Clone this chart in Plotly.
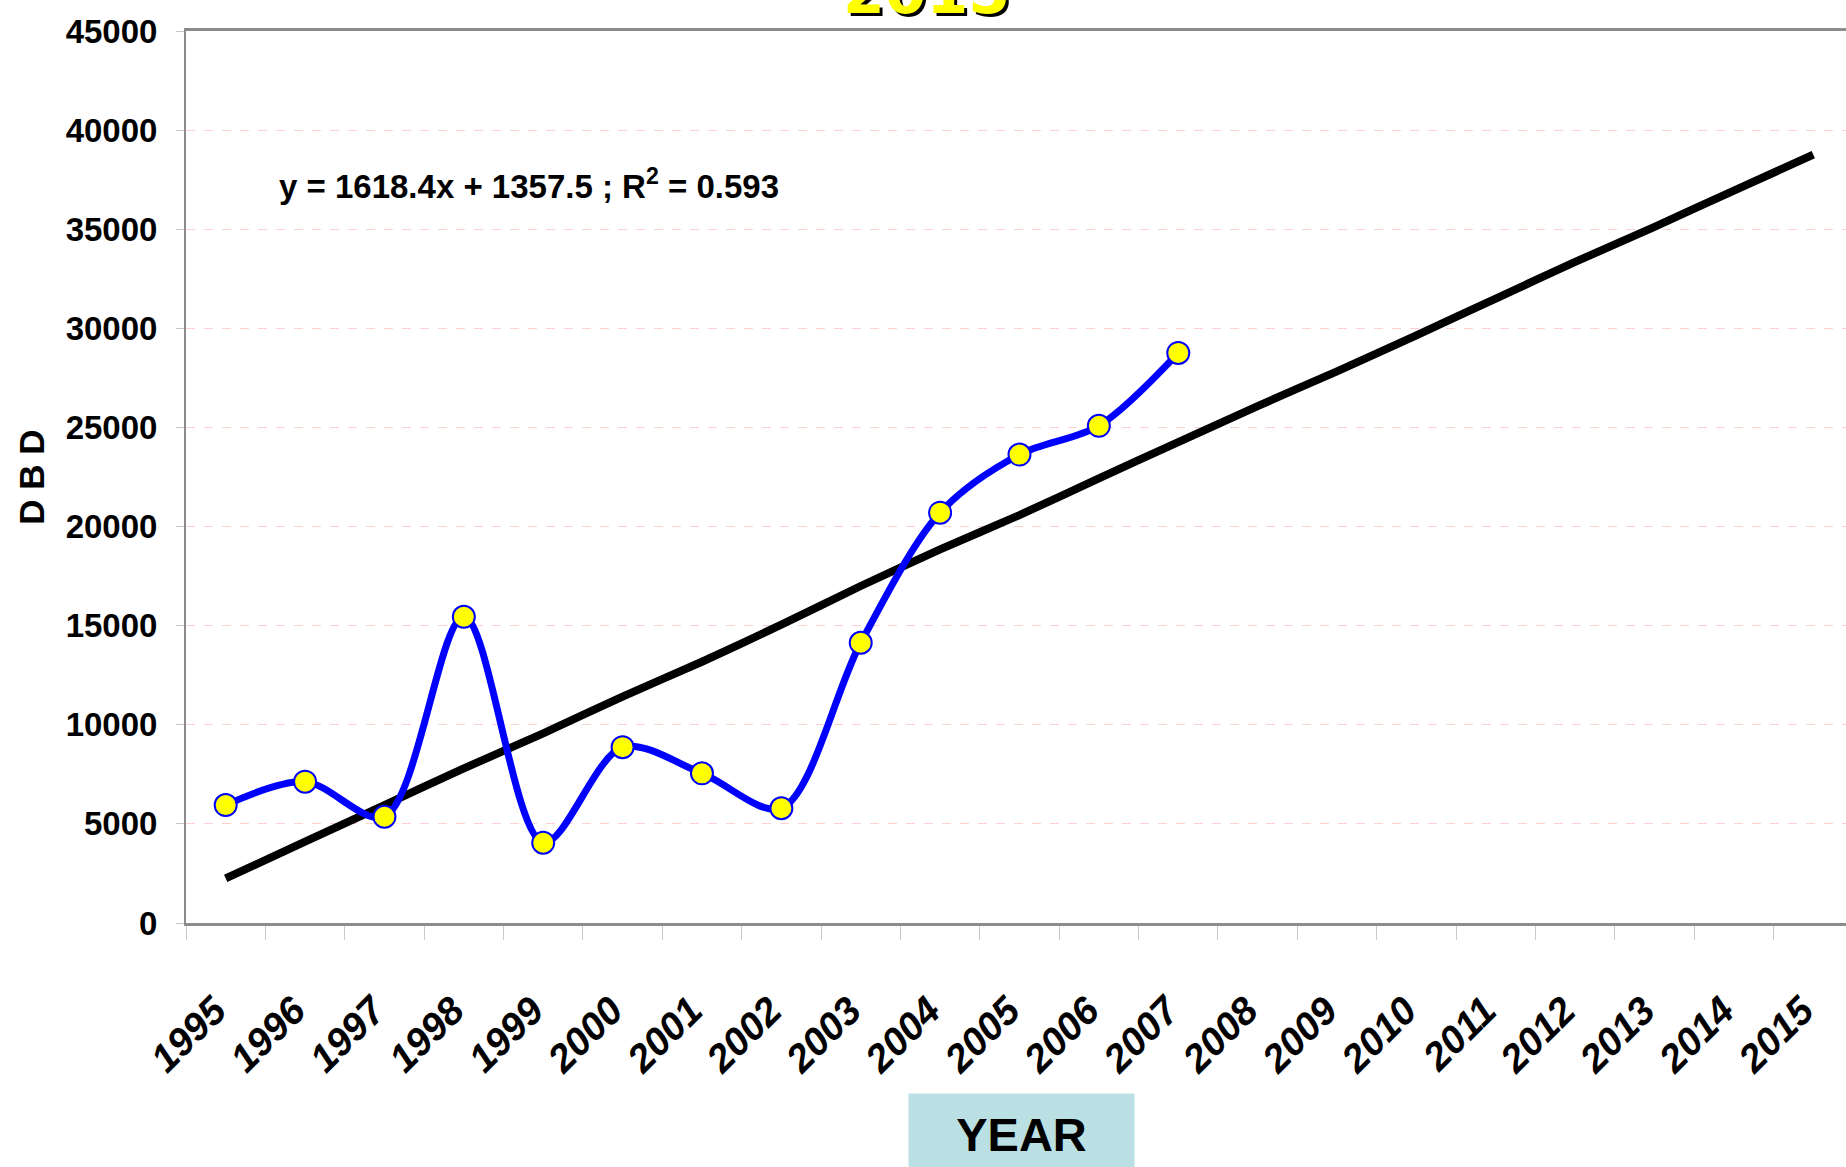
import plotly.graph_objects as go

# ---------------- data ----------------
years = ["1995", "1996", "1997", "1998", "1999", "2000", "2001", "2002", "2003",
         "2004", "2005", "2006", "2007", "2008", "2009", "2010", "2011", "2012",
         "2013", "2014", "2015"]
dbd_years = ["1995", "1996", "1997", "1998", "1999", "2000", "2001", "2002",
             "2003", "2004", "2005", "2006", "2007"]
dbd_values = [5950, 7130, 5360, 15450, 4050, 8870, 7550, 5790, 14140,
              20700, 23630, 25080, 28760]
trend_values = [2250, 4100, 5950, 7800, 9570, 11420, 13180, 15050, 17000,
                18850, 20580, 22430, 24260, 26080, 27830, 29650, 31500,
                33350, 35120, 36950, 38760]
y_ticks = [0, 5000, 10000, 15000, 20000, 25000, 30000, 35000, 40000, 45000]
y_tick_labels = ["0", "5000", "10000", "15000", "20000", "25000", "30000",
                 "35000", "40000", "45000"]
equation_text = "y = 1618.4x + 1357.5 ; R<sup>2</sup> = 0.593"
title_text = "2015"
y_title = "D B D"
x_title = "YEAR"

# ---------------- geometry helpers ----------------
W, H = 1846, 1167
ML, MR, MT, MB = 186, 0, 31, 244
PW, PH = W - ML - MR, H - MT - MB


def px_x(p):
    return (p - ML) / PW


def px_y(p):
    return (H - MB - p) / PH


ARIAL = "Liberation Sans, Arial, sans-serif"
HEAVY = "DejaVu Sans, Verdana, sans-serif"

fig = go.Figure()

fig.add_trace(go.Scatter(
    x=years, y=trend_values, mode="lines",
    line=dict(color="black", width=8, shape="spline", smoothing=0.6),
    hoverinfo="skip",
))
fig.add_trace(go.Scatter(
    x=dbd_years, y=dbd_values, mode="lines+markers",
    line=dict(color="#0000ff", width=7, shape="spline", smoothing=0.9),
    marker=dict(symbol="circle", size=22, color="#ffff00",
                line=dict(color="#0000ff", width=2)),
))

# category spacing in px (approx 79.4); plot area extends beyond right edge
cat_px = 79.38
x_range = [-0.5, -0.5 + PW / cat_px]

fig.update_layout(
    width=W, height=H,
    margin=dict(l=ML, r=MR, t=MT, b=MB, pad=0, autoexpand=False),
    plot_bgcolor="white", paper_bgcolor="white",
    showlegend=False,
    xaxis=dict(
        type="category", categoryorder="array", categoryarray=years,
        range=x_range, tickson="boundaries",
        ticks="outside", ticklen=14, tickwidth=1, tickcolor="#c8c8c8",
        showline=True, linecolor="#8c8c8c", linewidth=3, mirror=True,
        showgrid=False, zeroline=False,
        tickangle=-45, ticklabelstandoff=46, ticklabelshift=-11,
        tickfont=dict(family=ARIAL, size=39, color="black",
                      weight="bold", style="italic"),
        automargin=False,
    ),
    yaxis=dict(
        range=[0, 45000], tickvals=y_ticks, ticktext=y_tick_labels,
        ticks="outside", ticklen=8, tickwidth=1, tickcolor="#c8c8c8",
        showline=True, linecolor="#8c8c8c", linewidth=2,
        showgrid=True, gridcolor="#ffd0d0", gridwidth=1, griddash="dash",
        zeroline=False,
        ticklabelstandoff=12,
        tickfont=dict(family=ARIAL, size=33, color="black", weight="bold"),
        title=dict(text=y_title, standoff=10,
                   font=dict(family=ARIAL, size=35, color="black",
                             weight="bold")),
        automargin=False,
    ),
)

# title "2015" with a black drop shadow (mostly cut off at the top)
title_cx, title_bottom = 926, 14 + 0.236 * 60 + 1
fig.add_annotation(text=title_text, xref="paper", yref="paper",
                   x=px_x(title_cx + 3), y=px_y(title_bottom + 2.5),
                   xanchor="center", yanchor="bottom", showarrow=False,
                   font=dict(family=HEAVY, size=60, color="black", weight="bold"))
fig.add_annotation(text=title_text, xref="paper", yref="paper",
                   x=px_x(title_cx), y=px_y(title_bottom),
                   xanchor="center", yanchor="bottom", showarrow=False,
                   font=dict(family=HEAVY, size=60, color="#ffff00", weight="bold"))

# regression equation
fig.add_annotation(text=equation_text, xref="paper", yref="paper",
                   x=px_x(277), y=px_y(184), xanchor="left", yanchor="middle",
                   showarrow=False,
                   font=dict(family=ARIAL, size=33, color="black", weight="bold"))

# "YEAR" label in a light-blue box
fig.add_annotation(text=x_title, xref="paper", yref="paper",
                   x=px_x(1021.5), y=px_y(1093), xanchor="center", yanchor="top",
                   showarrow=False, width=225, height=80, borderpad=0,
                   bgcolor="#bae0e4", valign="middle", align="center",
                   font=dict(family=ARIAL, size=47, color="black", weight="bold"))

fig.write_html("out.html", config={"displayModeBar": False},
               post_script="document.body.style.margin='0';")
